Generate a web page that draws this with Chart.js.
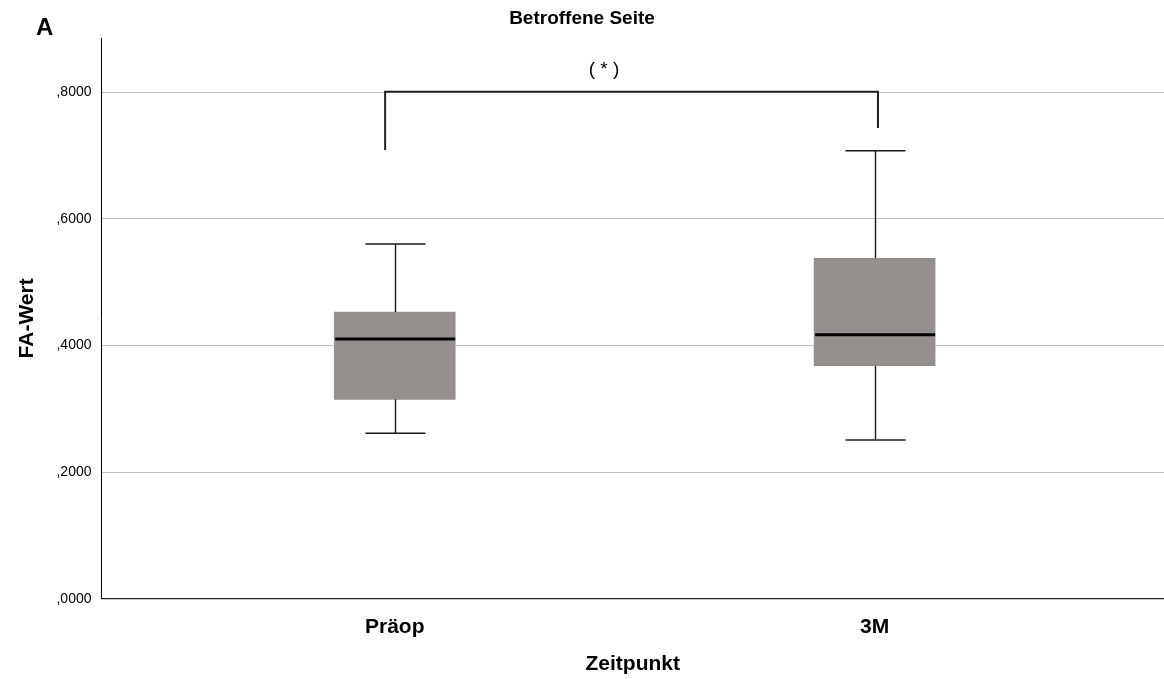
<!DOCTYPE html>
<html>
<head>
<meta charset="utf-8">
<script src="https://cdn.jsdelivr.net/npm/chart.js@4.4.0/dist/chart.umd.min.js"></script>
<style>
  html, body { margin: 0; padding: 0; background: #fff; }
  canvas { display: block; }
</style>
</head>
<body>
<canvas id="boxChart" width="1164" height="679"></canvas>
<script>
// box plot values
const categories = ["Präop", "3M"];
const whiskerLow = [0.2613, 0.2507];
const quartile1 = [0.3150, 0.3680];
const medians = [0.4103, 0.4171];
const quartile3 = [0.4529, 0.5378];
const whiskerHigh = [0.5604, 0.7077];
const yTicks = [0, 0.2, 0.4, 0.6, 0.8];

// significance bracket: left/right leg x, left foot, bar, right foot
const bracketX = [0.98, 2.007];
const bracketY = [0.7088, 0.8010, 0.7436];
const bracketText = "( * )";

const FONT = "'Liberation Sans', Arial, sans-serif";
Chart.defaults.font.family = FONT;
Chart.defaults.color = "#000";

const boxParts = {
    id: "boxParts",
    afterDatasetsDraw(chart) {
        const { ctx, scales: { x, y } } = chart;
        const bars = chart.getDatasetMeta(0).data;
        ctx.save();
        categories.forEach((c, i) => {
            const cx = Math.round(x.getPixelForValue(i + 1)) + 0.5;
            const yHi = y.getPixelForValue(whiskerHigh[i]);
            const yLo = y.getPixelForValue(whiskerLow[i]);
            ctx.strokeStyle = "#1a1a1a";
            ctx.lineWidth = 1.4;
            ctx.beginPath();
            ctx.moveTo(cx, y.getPixelForValue(quartile3[i]));
            ctx.lineTo(cx, yHi);
            ctx.moveTo(cx, y.getPixelForValue(quartile1[i]));
            ctx.lineTo(cx, yLo);
            ctx.moveTo(cx - 30, yHi);
            ctx.lineTo(cx + 30, yHi);
            ctx.moveTo(cx - 30, yLo);
            ctx.lineTo(cx + 30, yLo);
            ctx.stroke();

            // median
            const { x: bx, width: bw } = bars[i].getProps(["x", "width"], true);
            const ym = y.getPixelForValue(medians[i]);
            ctx.strokeStyle = "#000";
            ctx.lineWidth = 3;
            ctx.beginPath();
            ctx.moveTo(bx - bw / 2 + 1, ym);
            ctx.lineTo(bx + bw / 2, ym);
            ctx.stroke();
        });

        // bracket
        const xl = x.getPixelForValue(bracketX[0]);
        const xr = x.getPixelForValue(bracketX[1]);
        const yTop = y.getPixelForValue(bracketY[1]);
        ctx.strokeStyle = "#222";
        ctx.lineWidth = 2;
        ctx.beginPath();
        ctx.moveTo(xl, y.getPixelForValue(bracketY[0]));
        ctx.lineTo(xl, yTop);
        ctx.lineTo(xr, yTop);
        ctx.lineTo(xr, y.getPixelForValue(bracketY[2]));
        ctx.stroke();

        ctx.fillStyle = "#000";
        ctx.font = "19px " + FONT;
        ctx.textAlign = "center";
        ctx.textBaseline = "middle";
        ctx.fillText(bracketText, x.getPixelForValue(1.436), y.getPixelForValue(0.835));
        ctx.restore();
    },
    afterDraw(chart) {
        const ctx = chart.ctx;
        ctx.save();
        ctx.fillStyle = "#000";
        ctx.font = "bold 24px " + FONT;
        ctx.textAlign = "left";
        ctx.textBaseline = "middle";
        ctx.fillText("A", 36, 28);
        ctx.restore();
    }
};

new Chart(document.getElementById("boxChart"), {
    type: "bar",
    data: {
        datasets: [{
            data: categories.map((c, i) => ({ x: i + 1, y: [quartile1[i], quartile3[i]] })),
            backgroundColor: "#958f8e",
            borderWidth: 0,
            barThickness: 121
        }]
    },
    options: {
        responsive: false,
        animation: false,
        layout: { padding: 0 },
        plugins: {
            legend: { display: false },
            tooltip: { enabled: false },
            title: {
                display: true,
                text: "Betroffene Seite",
                font: { size: 19, weight: "bold" },
                color: "#000",
                padding: { top: 7, bottom: 8.2 }
            }
        },
        scales: {
            x: {
                type: "linear",
                min: 0.389,
                max: 2.603,
                offset: false,
                grid: { display: false, offset: false },
                border: { display: true, color: "#222", width: 1.2 },
                afterBuildTicks: (s) => { s.ticks = categories.map((c, i) => ({ value: i + 1 })); },
                afterFit: (s) => { s.height = 80.3; },
                ticks: {
                    callback: (v) => categories[v - 1],
                    font: { size: 21, weight: "bold" },
                    color: "#000",
                    padding: 8,
                    maxRotation: 0
                },
                title: {
                    display: true,
                    text: "Zeitpunkt",
                    font: { size: 21, weight: "bold" },
                    color: "#000",
                    padding: { top: 0, bottom: 2 }
                }
            },
            y: {
                min: 0,
                max: 0.8858,
                grid: { color: "#bdbdbd", lineWidth: 1, drawTicks: false },
                border: { display: true, color: "#000", width: 1 },
                afterBuildTicks: (s) => { s.ticks = yTicks.map(v => ({ value: v })); },
                afterFit: (s) => { s.width = 101.5; },
                ticks: {
                    includeBounds: false,
                    callback: (v) => v.toFixed(4).replace("0.", ","),
                    font: { size: 14 },
                    color: "#000",
                    padding: 10
                },
                title: {
                    display: true,
                    text: "FA-Wert",
                    font: { size: 21, weight: "bold" },
                    color: "#000",
                    padding: { top: 15, bottom: 0 }
                }
            }
        }
    },
    plugins: [boxParts]
});
</script>
</body>
</html>
